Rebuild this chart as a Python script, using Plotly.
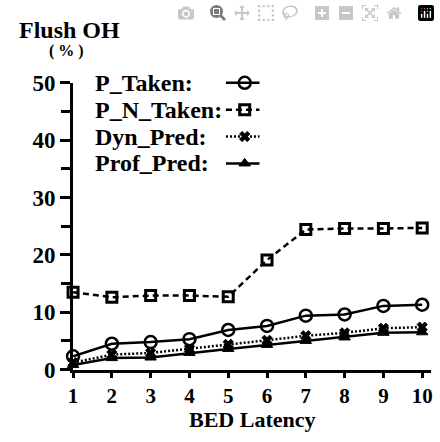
import plotly.graph_objects as go

# ---- data ----
latency = [1, 2, 3, 4, 5, 6, 7, 8, 9, 10]
p_taken = [2.3, 4.5, 4.8, 5.3, 6.9, 7.6, 9.4, 9.6, 11.1, 11.3]
p_n_taken = [13.5, 12.6, 12.9, 12.9, 12.7, 19.1, 24.4, 24.6, 24.6, 24.7]
dyn_pred = [1.2, 2.6, 2.9, 3.6, 4.4, 5.1, 5.9, 6.4, 7.2, 7.4]
prof_pred = [0.8, 2.0, 2.1, 2.9, 3.6, 4.3, 5.0, 5.6, 6.4, 6.5]
series_names = ["P_Taken:", "P_N_Taken:", "Dyn_Pred:", "Prof_Pred:"]
y_ticks = [0, 10, 20, 30, 40, 50]
x_ticks = latency

W, H = 440, 442
FONT = "Liberation Serif"
BLACK = "black"

styles = [
    dict(dash="solid", symbol="circle-open", size=12, mline=2.5),
    dict(dash="6px,4px", symbol="square-open", size=10, mline=3),
    dict(dash="2px,2px", symbol="x", size=9, mline=1),
    dict(dash="solid", symbol="triangle-up", size=10, mline=1),
]
values = [p_taken, p_n_taken, dyn_pred, prof_pred]

fig = go.Figure()
for name, vals, st in zip(series_names, values, styles):
    fig.add_trace(go.Scatter(
        x=latency, y=vals, mode="lines+markers", name=name, showlegend=False,
        line=dict(color=BLACK, width=2.5, dash=st["dash"]),
        marker=dict(symbol=st["symbol"], size=st["size"], color=BLACK,
                    line=dict(color=BLACK, width=st["mline"])),
        cliponaxis=False, xaxis="x", yaxis="y",
    ))

# custom legend (text left, key right) drawn on a full-figure pixel overlay
leg_x_text = 89
leg_y0 = 75
leg_dy = 28.5
key_x0, key_x1 = 224, 258
for i, (name, st) in enumerate(zip(series_names, styles)):
    yy = leg_y0 + i * leg_dy
    fig.add_annotation(x=leg_x_text, y=yy, xref="x2", yref="y2", text=name,
                       showarrow=False, xanchor="left", yanchor="middle",
                       font=dict(family=FONT, size=24, color=BLACK, weight="bold"))
    fig.add_trace(go.Scatter(
        x=[key_x0, (key_x0 + key_x1) / 2, key_x1], y=[yy, yy, yy],
        mode="lines", line=dict(color=BLACK, width=2.5, dash=st["dash"]),
        showlegend=False, xaxis="x2", yaxis="y2", cliponaxis=False, hoverinfo="skip"))
    fig.add_trace(go.Scatter(
        x=[(key_x0 + key_x1) / 2 + 2], y=[yy], mode="markers",
        marker=dict(symbol=st["symbol"], size=st["size"], color=BLACK,
                    line=dict(color=BLACK, width=st["mline"])),
        showlegend=False, xaxis="x2", yaxis="y2", cliponaxis=False, hoverinfo="skip"))

# titles
fig.add_annotation(x=12, y=19, xref="x2", yref="y2", text="Flush OH", showarrow=False,
                   xanchor="left", yanchor="middle",
                   font=dict(family=FONT, size=24, color=BLACK, weight="bold"))
fig.add_annotation(x=62, y=41, xref="x2", yref="y2", text="( % )", showarrow=False,
                   xanchor="center", yanchor="middle",
                   font=dict(family=FONT, size=16, color=BLACK, weight="bold"))
fig.add_annotation(x=251, y=432, xref="x2", yref="y2", text="BED Latency", showarrow=False,
                   xanchor="center", yanchor="middle",
                   font=dict(family=FONT, size=22, color=BLACK, weight="bold"))

L, R, T, B = 69, 432, 75, 379
fig.update_layout(
    width=W, height=H, autosize=False,
    margin=dict(l=0, r=0, t=0, b=0),
    paper_bgcolor="white", plot_bgcolor="rgba(0,0,0,0)",
    showlegend=False,
    xaxis=dict(domain=[L / W, R / W], range=[1, 10.23], tickvals=x_ticks,
               showgrid=False, zeroline=False, showline=True, linecolor=BLACK, linewidth=3,
               ticks="outside", ticklen=5, tickwidth=2.5, tickcolor=BLACK,
               tickfont=dict(family=FONT, size=21, color=BLACK, weight="bold"),
               anchor="y"),
    yaxis=dict(domain=[1 - B / H, 1 - T / H], range=[0, 50], tickvals=y_ticks,
               showgrid=False, zeroline=False, showline=True, linecolor=BLACK, linewidth=3,
               ticks="outside", ticklen=10, tickwidth=2.5, tickcolor=BLACK,
               tickfont=dict(family=FONT, size=23, color=BLACK, weight="bold"),
               minor=dict(tickvals=[5, 15, 25, 35, 45], ticks="outside", ticklen=9,
                          tickwidth=2.5, tickcolor=BLACK, showgrid=False),
               anchor="x"),
    xaxis2=dict(domain=[0, 1], range=[0, W], visible=False, anchor="y2", fixedrange=True),
    yaxis2=dict(domain=[0, 1], range=[H, 0], visible=False, anchor="x2", fixedrange=True),
)

fig.write_html("out.html",
               post_script="document.body.style.margin='0';document.body.style.overflow='hidden';")
